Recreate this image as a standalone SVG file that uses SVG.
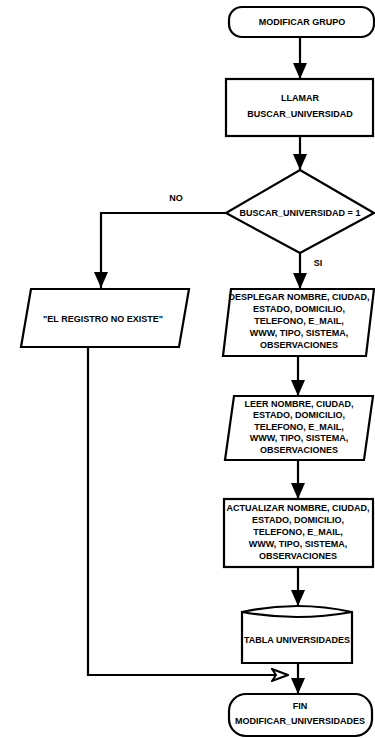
<svg xmlns="http://www.w3.org/2000/svg" width="375" height="738" viewBox="0 0 375 738">
<style>
.s{fill:#fff;stroke:#000;stroke-width:2.2}
.c{fill:none;stroke:#000;stroke-width:2.2}
text{font-family:"Liberation Sans",Arial,sans-serif;font-size:9px;font-weight:bold;fill:#000;text-anchor:middle}
</style>
<defs>
<marker id="ah" markerUnits="userSpaceOnUse" viewBox="0 0 16 14" markerWidth="16" markerHeight="14" refX="16" refY="7" orient="auto">
<path d="M0,0 L16,7 L0,14 Z" fill="#000"/>
</marker>
<marker id="ho" markerUnits="userSpaceOnUse" viewBox="0 0 18 14" markerWidth="18" markerHeight="14" refX="17" refY="7" orient="auto">
<path d="M1,1 L17,7 L1,13 L5,7 Z" fill="#fff" stroke="#000" stroke-width="2"/>
</marker>
</defs>
<rect width="375" height="738" fill="#fff"/>
<g id="connectors">
<path class="c" d="M300,37 V79" marker-end="url(#ah)"/>
<path class="c" d="M300,136 V170" marker-end="url(#ah)"/>
<path class="c" d="M226,213 H101 V288" marker-end="url(#ah)"/>
<path class="c" d="M300,253 V289" marker-end="url(#ah)"/>
<path class="c" d="M298,356 V396" marker-end="url(#ah)"/>
<path class="c" d="M298,460 V499" marker-end="url(#ah)"/>
<path class="c" d="M298,567 V606" marker-end="url(#ah)"/>
<path class="c" d="M298,663 V694" marker-end="url(#ah)"/>
<path class="c" d="M88,347 V675 H288" marker-end="url(#ho)"/>
</g>
<g id="start">
<rect class="s" x="229" y="7" width="145" height="30" rx="13"/>
<text x="302" y="25">MODIFICAR GRUPO</text>
</g>
<g id="llamar">
<rect class="s" x="226" y="79" width="147" height="57"/>
<text x="300" y="101">LLAMAR</text>
<text x="300" y="117">BUSCAR_UNIVERSIDAD</text>
</g>
<g id="decision">
<polygon class="s" points="300,170 374,213 300,253 226,213"/>
<text x="300" y="216">BUSCAR_UNIVERSIDAD = 1</text>
</g>
<text x="176" y="201">NO</text>
<text x="318" y="266">SI</text>
<g id="noexiste">
<polygon class="s" points="31,289 189,289 179,347 21,347"/>
<text x="103" y="322">"EL REGISTRO NO EXISTE"</text>
</g>
<g id="desplegar">
<polygon class="s" points="231,289 374,289 366,356 223,356"/>
<text x="299" y="300">DESPLEGAR NOMBRE, CIUDAD,</text>
<text x="299" y="312">ESTADO, DOMICILIO,</text>
<text x="299" y="324">TELEFONO, E_MAIL,</text>
<text x="299" y="336">WWW, TIPO, SISTEMA,</text>
<text x="299" y="348">OBSERVACIONES</text>
</g>
<g id="leer">
<polygon class="s" points="234,396 373,396 364,460 225,460"/>
<text x="299" y="407">LEER NOMBRE, CIUDAD,</text>
<text x="299" y="418">ESTADO, DOMICILIO,</text>
<text x="299" y="430">TELEFONO, E_MAIL,</text>
<text x="299" y="441">WWW, TIPO, SISTEMA,</text>
<text x="299" y="453">OBSERVACIONES</text>
</g>
<g id="actualizar">
<rect class="s" x="224" y="499" width="149" height="68"/>
<text x="298" y="511">ACTUALIZAR NOMBRE, CIUDAD,</text>
<text x="298" y="523">ESTADO, DOMICILIO,</text>
<text x="298" y="535">TELEFONO, E_MAIL,</text>
<text x="298" y="547">WWW, TIPO, SISTEMA,</text>
<text x="298" y="559">OBSERVACIONES</text>
</g>
<g id="tabla">
<path class="s" d="M242,612 Q297,600 352,612 V663 H242 Z"/>
<path class="c" d="M242,612 Q297,622 352,612"/>
<text x="297" y="643">TABLA UNIVERSIDADES</text>
</g>
<g id="fin">
<rect class="s" x="229" y="694" width="143" height="42" rx="17"/>
<text x="300" y="709">FIN</text>
<text x="300" y="724">MODIFICAR_UNIVERSIDADES</text>
</g>
</svg>
